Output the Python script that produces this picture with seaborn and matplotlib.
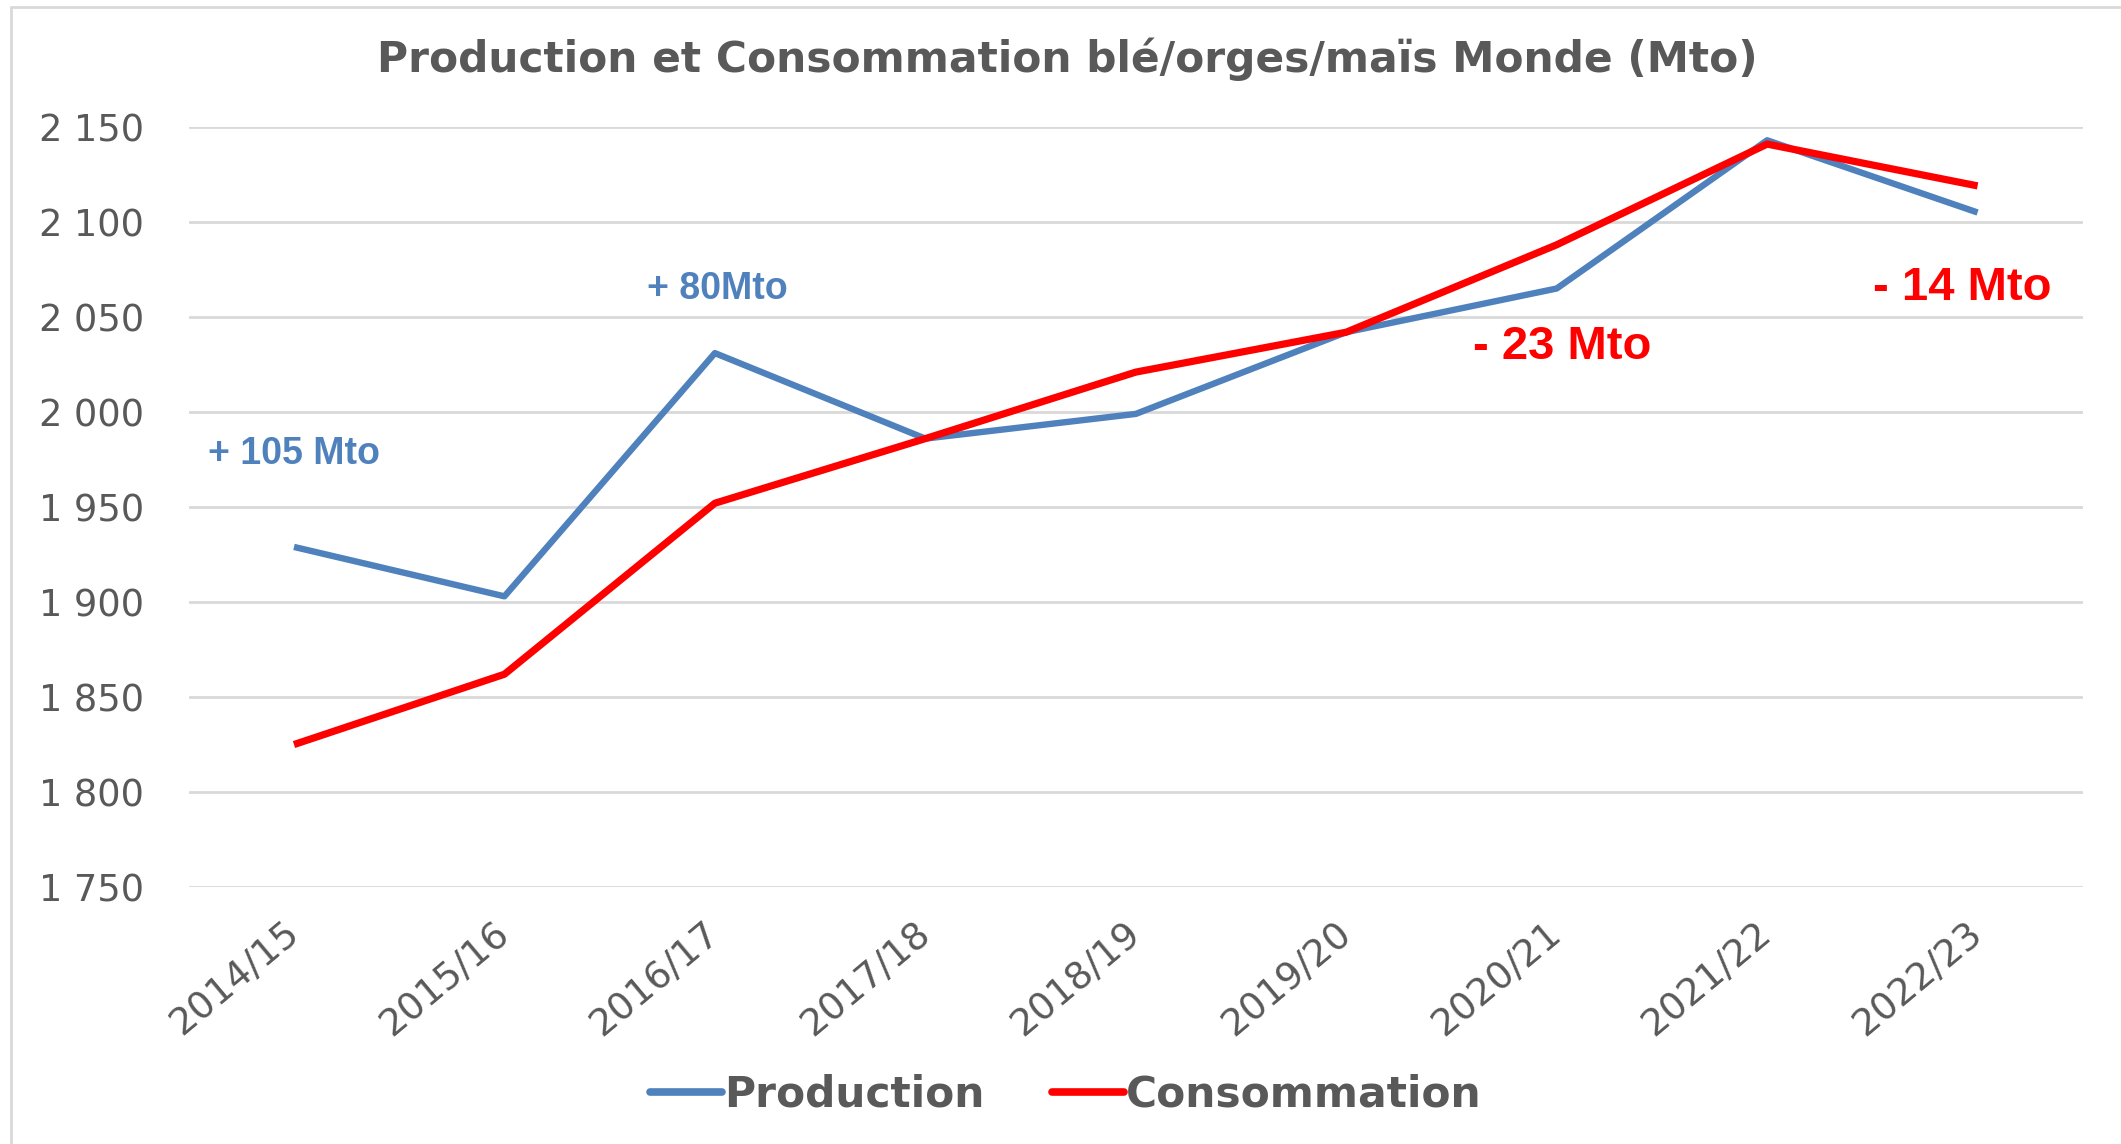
import pandas as pd
import matplotlib.pyplot as plt
import seaborn as sns
from matplotlib.ticker import FuncFormatter
from matplotlib.lines import Line2D

# Data (Mto)
campagnes = ['2014/15', '2015/16', '2016/17', '2017/18', '2018/19',
             '2019/20', '2020/21', '2021/22', '2022/23']
production = [1929, 1903, 2031, 1986, 1999, 2042, 2065, 2143, 2105]
consommation = [1825, 1862, 1952, 1986, 2021, 2042, 2088, 2141, 2119]

df = pd.DataFrame({
    'Campagne': campagnes * 2,
    'Mto': production + consommation,
    'Serie': ['Production'] * len(campagnes) + ['Consommation'] * len(campagnes),
})

sns.set_style("white")
plt.rcParams['font.family'] = ['DejaVu Sans']

grey = '#595959'
blue = '#4F81BD'
red = '#FF0000'

fig = plt.figure(figsize=(21.21, 11.44), dpi=100)
ax = fig.add_axes([0.089, 0.2246, 0.893, 0.6644])

sns.lineplot(data=df, x='Campagne', y='Mto', hue='Serie',
             palette={'Production': blue, 'Consommation': red},
             linewidth=5, sort=False, ax=ax, legend=False)
for line, lw in zip(ax.lines, [4.6, 5.2]):
    line.set_linewidth(lw)
    line.set_solid_capstyle('butt')

ax.set_xlim(-0.5, len(campagnes) - 0.5)
ax.set_ylim(1750, 2150)
ax.set_yticks(range(1750, 2151, 50))
ax.yaxis.set_major_formatter(FuncFormatter(lambda v, p: f"{v:,.0f}".replace(",", " ")))
ax.grid(axis='y', color='#D9D9D9', linewidth=2)
ax.set_axisbelow(True)
for s in ax.spines.values():
    s.set_visible(False)
ax.set_xlabel('')
ax.set_ylabel('')

ax.tick_params(axis='y', length=0, pad=32, labelsize=26.5, labelcolor=grey)
ax.tick_params(axis='x', length=0, pad=30, labelsize=27, labelcolor=grey)
plt.setp(ax.get_xticklabels(), rotation=40, ha='right', va='center',
         rotation_mode='anchor')

fig.text(0.503, 0.948, 'Production et Consommation blé/orges/maïs Monde (Mto)',
         ha='center', va='center', fontsize=30.5, fontweight='bold', color=grey)

# Annotations
ann = dict(fontweight='bold', family='Liberation Sans', va='center', ha='left')
ax.text(0.098, 0.603, '+ 105 Mto', transform=fig.transFigure, color=blue, fontsize=27, **ann)
ax.text(0.305, 0.747, '+ 80Mto', transform=fig.transFigure, color=blue, fontsize=27, **ann)
ax.text(0.6945, 0.697, '- 23 Mto', transform=fig.transFigure, color=red, fontsize=34, **ann)
ax.text(0.883, 0.748, '- 14 Mto', transform=fig.transFigure, color=red, fontsize=34, **ann)

# Legend
handles = [Line2D([], [], color=blue, linewidth=5.5),
           Line2D([], [], color=red, linewidth=5.5)]
fig.legend(handles, ['Production', 'Consommation'], loc='center',
           bbox_to_anchor=(0.5025, 0.043), ncol=2, frameon=False,
           prop={'size': 30.5, 'weight': 'bold'}, labelcolor=grey,
           handlelength=1.7, handletextpad=0.05, columnspacing=1.6)

# Chart area border (left and top)
fig.add_artist(Line2D([0.005, 0.005], [0, 0.994], transform=fig.transFigure,
                      color='#D9D9D9', linewidth=2))
fig.add_artist(Line2D([0.005, 1], [0.994, 0.994], transform=fig.transFigure,
                      color='#D9D9D9', linewidth=2))

fig.savefig('out.png', dpi=100, facecolor='white')
